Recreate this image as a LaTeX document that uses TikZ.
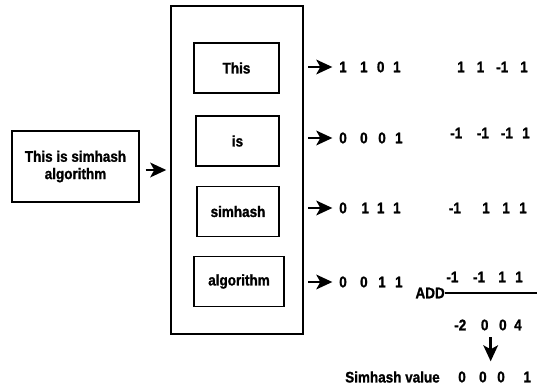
\documentclass[tikz,border=0pt]{standalone}
\usepackage{fontspec}
\setmainfont{Liberation Sans}[FakeStretch=0.88, FakeBold=1.2]
\usetikzlibrary{arrows.meta, positioning}

\tikzset{
  box/.style={draw, line width=1.1pt, inner sep=0pt, align=center},
  word/.style={box, minimum width=62pt, minimum height=37.5pt},
  bits/.style={inner sep=0pt},
  arr/.style={-{Stealth[length=12pt,width=11pt,inset=3pt]}, line width=1.8pt},
}
\newcommand{\gap}[1]{\hspace{#1pt}}

\begin{document}
\begin{tikzpicture}[x=0.75pt, y=-0.75pt, font=\bfseries\fontsize{11.5}{13}\selectfont]
        \useasboundingbox (0,0) rectangle (537,385);

        % Sentence and its words
        \node[box, minimum width=95pt, minimum height=53pt] (input) at (75.5,166.5) {This is simhash\\algorithm};
        \node[box, minimum width=99pt, minimum height=246pt] (tokens) at (237,170) {};
        \node[word, minimum width=64pt] (w1) at (236.5,68) {This};
        \node[word] (w2) at (237.5,141) {is};
        \node[word, minimum width=61.5pt] (w3) at (238,211.5) {simhash};
        \node[word, minimum width=67.5pt] (w4) at (239,281.5) {algorithm};
        \draw[arr, shorten <=4.5pt, shorten >=3pt] (tokens.west -| input.east) -- (tokens.west);

        % Hashes of the words
        \node[bits, anchor=west] (h1) at (339,67) {1\gap{10}1\gap{7}0\gap{6.5}1};
        \node[bits, anchor=west] (h2) at (339,138) {0\gap{10}0\gap{8}0\gap{7}1};
        \node[bits, anchor=west] (h3) at (339,208) {0\gap{11}1\gap{6}1\gap{6.5}1};
        \node[bits, anchor=west] (h4) at (339,282) {0\gap{10}0\gap{8}1\gap{7}1};
        \foreach \h in {h1,h2,h3,h4}
          \draw[arr, shorten <=3.5pt, shorten >=5pt] (tokens.east |- \h.west) -- (\h.west);

        % Weights
        \node[bits, anchor=east] (s1) at (528,67) {1\gap{9}1\gap{9}-1\gap{9}1};
        \node[bits, anchor=east] (s2) at (530,133) {-1\gap{11}-1\gap{9}-1\gap{7}1};
        \node[bits, anchor=east] (s3) at (527,208) {-1\gap{16}1\gap{9.5}1\gap{7}1};
        \node[bits, anchor=east] (s4) at (523,277) {-1\gap{11}-1\gap{10}1\gap{7}1};

        % Sum
        \node[bits, anchor=east] (add) at (445,293) {ADD};
        \coordinate (lineend) at (537,293);
        \draw[line width=1.1pt] (add.east) -- (lineend);
        \node[bits, anchor=east] (sum) at (522,325) {-2\gap{11}0\gap{8}0\gap{5.7}4};

        % Result
        \node[bits, anchor=west] (final) at (458,377) {0\gap{10}0\gap{8}0\gap{14}1};
        \node[bits, anchor=east] (simlabel) at (440,377) {Simhash value};
        \draw[arr, shorten <=5pt, shorten >=7.5pt] ([xshift=2pt]sum.south) -- ([xshift=2pt]sum.south |- final.north);
      \end{tikzpicture}
\end{document}
